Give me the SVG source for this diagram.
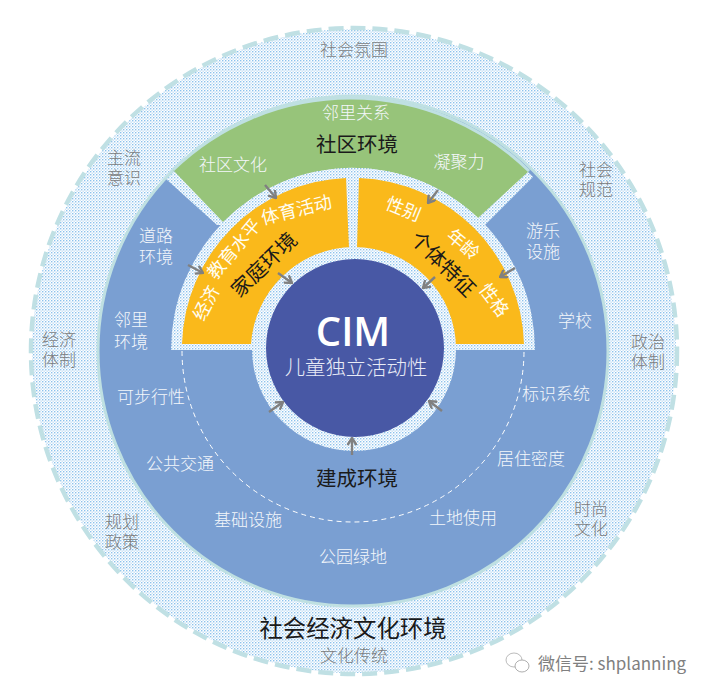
<svg xmlns="http://www.w3.org/2000/svg" width="709" height="695" viewBox="0 0 709 695">
<style>
text{font-family:"Noto Sans CJK SC","Noto Sans",sans-serif;text-anchor:middle;font-weight:300}
.g{fill:#7d7d7d;font-size:17px}
.w{fill:#f4f7fb;font-size:17px}
.y{fill:#fffdf2;font-size:18px;font-weight:400}
.k{fill:#1a1a1a;font-size:20.5px;font-weight:400}
.a{fill:none;stroke:#808080;stroke-width:2.4;marker-end:url(#ah)}
</style>
<defs>
<pattern id="dots" width="3" height="3" patternUnits="userSpaceOnUse">
<rect width="3" height="3" fill="#fff"/>
<rect x="0" y="0" width="1.4" height="1.4" fill="#8cc2ec"/>
<rect x="1.5" y="1.5" width="1.4" height="1.4" fill="#c4dff5"/>
</pattern>
<marker id="ah" viewBox="0 0 10 10" refX="9" refY="5" markerWidth="10" markerHeight="10" orient="auto" markerUnits="userSpaceOnUse">
<path d="M2 0.5L9 5L2 9.5" fill="none" stroke="#808080" stroke-width="2.4"/>
</marker>
</defs>
<rect width="709" height="695" fill="#fff"/>
<g id="outer">
<circle cx="354" cy="351" r="322" fill="url(#dots)"/>
<circle cx="354" cy="351" r="323" fill="none" stroke="#c0e0e4" stroke-width="4.5" stroke-dasharray="15 7"/>
<text class="g" x="354" y="56">社会氛围</text>
<text class="g" x="124" y="164">主流<tspan x="124" dy="20">意识</tspan></text>
<text class="g" x="596" y="176">社会<tspan x="596" dy="20">规范</tspan></text>
<text class="g" x="59" y="346">经济<tspan x="59" dy="20">体制</tspan></text>
<text class="g" x="648" y="348">政治<tspan x="648" dy="20">体制</tspan></text>
<text class="g" x="122" y="528">规划<tspan x="122" dy="20">政策</tspan></text>
<text class="g" x="591" y="515">时尚<tspan x="591" dy="20">文化</tspan></text>
<text class="g" x="354" y="662">文化传统</text>
<text class="k" x="353" y="637" style="font-size:23.4px">社会经济文化环境</text>
</g>
<g id="built">
<circle cx="353" cy="351" r="255" fill="#7a9fd2"/>
<path d="M217 225L166 179A255 255 0 0 1 533 177L485 225Z" fill="url(#dots)"/>
<circle cx="353" cy="351" r="255" fill="none" stroke="#bfe0e2" stroke-width="3"/>
<path d="M182 351A171 171 0 0 0 524 351" fill="none" stroke="#fff" stroke-width="1" stroke-dasharray="5 4"/>
<text class="w" x="156" y="242">道路<tspan x="156" dy="21">环境</tspan></text>
<text class="w" x="131" y="326">邻里<tspan x="131" dy="22">环境</tspan></text>
<text class="w" x="151" y="403">可步行性</text>
<text class="w" x="180" y="470">公共交通</text>
<text class="w" x="248" y="526">基础设施</text>
<text class="w" x="353" y="563">公园绿地</text>
<text class="w" x="463" y="524">土地使用</text>
<text class="w" x="531" y="465">居住密度</text>
<text class="w" x="556" y="400">标识系统</text>
<text class="w" x="575" y="327">学校</text>
<text class="w" x="543" y="237">游乐<tspan x="543" dy="21">设施</tspan></text>
<text class="k" x="357" y="486">建成环境</text>
</g>
<g id="community">
<path d="M223 222L173 170A255 255 0 0 1 529 171L478 218A182 182 0 0 0 223 222Z" fill="#97c47a"/>
<path d="M173 170A255 255 0 0 1 529 171" fill="none" stroke="#bfe0e2" stroke-width="3"/>
<text class="w" x="356" y="119">邻里关系</text>
<text class="k" x="357" y="152">社区环境</text>
<text class="w" x="233" y="171">社区文化</text>
<text class="w" x="459" y="168">凝聚力</text>
</g>
<path d="M171 350A182 182 0 0 1 535 350Z" fill="url(#dots)"/>
<g id="family">
<path d="M182 344A171 171 0 0 1 346 178L349 248A103 103 0 0 0 251 344Z" fill="#fab91b"/>
<text class="y" transform="translate(298 216) rotate(-14)">体育活动</text>
<text class="y" transform="translate(239 253) rotate(-50)">教育水平</text>
<text class="y" transform="translate(212 306) rotate(-63)">经济</text>
<text class="k" transform="translate(269 270) rotate(-44)">家庭环境</text>
</g>
<g id="individual">
<path d="M359 178A171 171 0 0 1 524 344H455A103 103 0 0 0 357 248Z" fill="#fab91b"/>
<text class="y" transform="translate(401 215) rotate(22)">性别</text>
<text class="y" transform="translate(459 249) rotate(40)">年龄</text>
<text class="y" transform="translate(489 304) rotate(53)">性格</text>
<text class="k" transform="translate(438 269) rotate(45)">个体特征</text>
</g>
<g id="cim">
<circle cx="354" cy="349" r="102" fill="url(#dots)"/>
<circle cx="355" cy="348" r="89" fill="#4858a5"/>
<text x="353" y="346" style="font-family:'Open Sans','Noto Sans',sans-serif;font-size:40px;font-weight:600;fill:#fff">CIM</text>
<text x="356" y="375" style="font-size:20.4px;fill:#e8ebf6">儿童独立活动性</text>
</g>
<g id="connectors">
<path class="a" d="M265 185L276 198"/>
<path class="a" d="M438 190L428 203"/>
<path class="a" d="M188 265L203 273"/>
<path class="a" d="M515 268L500 277"/>
<path class="a" d="M278 273L292 283"/>
<path class="a" d="M435 277L423 288"/>
<path class="a" d="M269 412L283 402"/>
<path class="a" d="M442 411L429 401"/>
<path class="a" d="M352 455L352 438"/>
</g>
<g id="watermark">
<ellipse cx="514" cy="660" rx="8" ry="7" fill="#fff" stroke="#aaa" stroke-width="0.8"/>
<ellipse cx="522" cy="666" rx="7" ry="6" fill="#fff" stroke="#999" stroke-width="0.8"/>
<text x="538" y="670" style="text-anchor:start;font-size:17px;fill:#808080;font-weight:400">微信号: shplanning</text>
</g>
</svg>
